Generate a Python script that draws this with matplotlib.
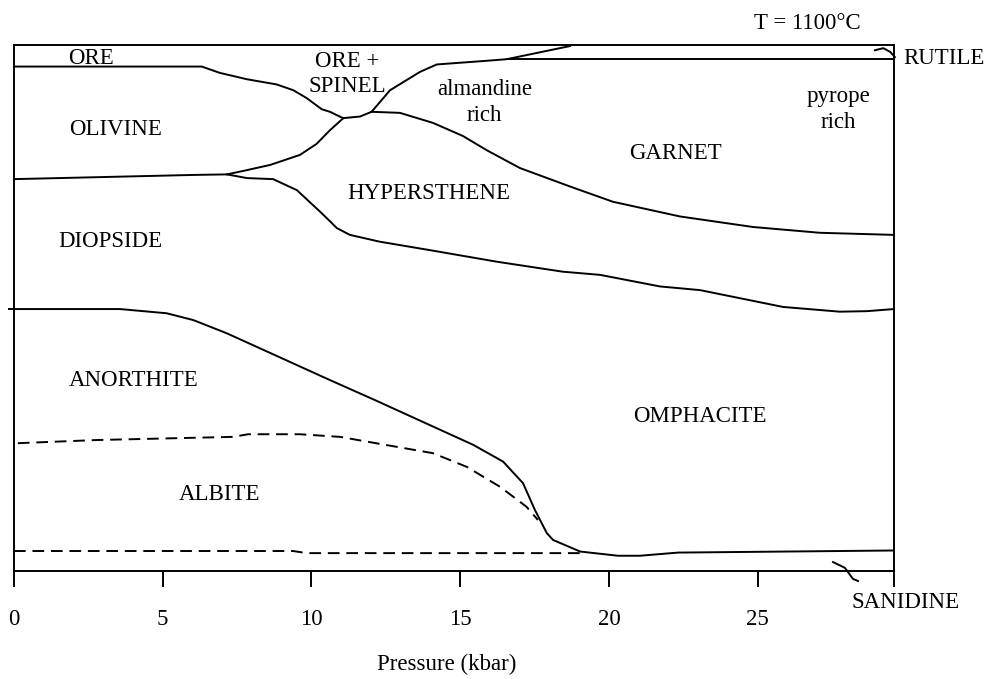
import matplotlib
matplotlib.use("Agg")
from matplotlib import pyplot as plt

plt.rcParams['font.family'] = ['Liberation Serif', 'DejaVu Serif']

# boundaries: x = pressure (kbar), y = relative height (0..100)
ore_x = [0, 6.31, 6.92, 7.82, 8.83, 9.39, 9.84, 10.34, 10.62, 11.06]
ore_y = [95.9, 95.9, 94.7, 93.5, 92.5, 91.4, 89.9, 87.8, 87.3, 86.1]

olivine_x = [0, 6.05, 7.16, 7.82, 8.61, 9.61, 10.17, 10.62, 11.07, 11.63, 12.02,
             12.64, 13.65, 14.21, 15.89, 16.56, 18.69]
olivine_y = [74.5, 75.3, 75.4, 76.2, 77.2, 79.1, 81.2, 83.8, 86.1, 86.4, 87.3,
             91.4, 94.9, 96.3, 97.0, 97.3, 99.8]

rutile_x = [16.56, 29.58]
rutile_y = [97.3, 97.3]

diopside_x = [7.16, 7.83, 8.71, 9.51, 10.29, 10.62, 10.85, 11.29, 12.30, 13.98,
              16.23, 18.45, 19.70, 21.71, 23.06, 25.85, 27.76, 28.67, 29.58]
diopside_y = [75.4, 74.7, 74.5, 72.4, 68.3, 66.5, 65.2, 63.9, 62.6, 61.0,
              58.8, 56.9, 56.3, 54.1, 53.4, 50.2, 49.3, 49.4, 49.8]

garnet_x = [12.02, 12.97, 14.08, 15.09, 15.89, 17.01, 18.69, 20.13, 22.39,
            24.84, 27.09, 29.58]
garnet_y = [87.3, 87.1, 85.2, 82.7, 80.0, 76.6, 73.1, 70.2, 67.4,
            65.4, 64.3, 63.9]

anorthite_x = [0, 3.56, 5.13, 6.03, 7.15, 10.62, 12.13, 15.43, 16.44, 17.11,
               17.51, 17.91, 18.12, 19.03, 20.30, 21.04, 22.32, 29.58]
anorthite_y = [49.8, 49.8, 49.0, 47.7, 45.2, 36.3, 32.5, 24.0, 20.8, 16.7,
               11.6, 7.2, 5.9, 3.7, 2.9, 2.9, 3.5, 3.9]

albite_top_x = [0.13, 2.79, 7.36, 7.87, 9.61, 10.96, 11.86, 14.08, 15.22,
                16.34, 17.23, 17.61]
albite_top_y = [24.3, 24.9, 25.5, 26.0, 26.0, 25.5, 24.6, 22.4, 19.8,
                16.0, 12.2, 9.7]

albite_bot_x = [0, 9.38, 9.84, 19.03]
albite_bot_y = [3.8, 3.8, 3.4, 3.4]

rutile_mark_x = [28.94, 29.22, 29.45, 29.61]
rutile_mark_y = [99.0, 99.4, 98.7, 97.7]
sanidine_mark_x = [27.53, 27.93, 28.20, 28.37]
sanidine_mark_y = [1.7, 0.6, -1.5, -1.9]

labels = ["ORE", "ORE +\nSPINEL", "almandine\nrich", "pyrope\nrich", "OLIVINE",
          "GARNET", "HYPERSTHENE", "DIOPSIDE", "ANORTHITE", "OMPHACITE", "ALBITE"]
label_x = [2.58, 11.19, 15.82, 27.70, 3.43, 22.23, 13.94, 3.23, 4.03, 23.06, 6.91]
label_y = [97.4, 94.5, 89.1, 87.8, 84.0, 79.4, 71.7, 62.7, 36.3, 29.3, 14.6]

xticks = [0, 5, 10, 15, 20, 25]
xmax = 29.58

W, H = 987, 679
fig = plt.figure(figsize=(W / 100, H / 100), dpi=100)
ax = fig.add_axes([14 / W, (H - 571) / H, (894 - 14) / W, (571 - 45) / H])
ax.set_xlim(0, xmax)
ax.set_ylim(0, 100)

lw = 1.4
for xs, ys in [(ore_x, ore_y), (olivine_x, olivine_y), (rutile_x, rutile_y),
               (diopside_x, diopside_y), (garnet_x, garnet_y),
               (anorthite_x, anorthite_y)]:
    ax.plot(xs, ys, color='black', lw=lw, solid_joinstyle='round')
for xs, ys in [(albite_top_x, albite_top_y), (albite_bot_x, albite_bot_y)]:
    ax.plot(xs, ys, color='black', lw=lw, dashes=(6, 3.5))
ax.plot(rutile_mark_x, rutile_mark_y, color='black', lw=lw, clip_on=False)
ax.plot(sanidine_mark_x, sanidine_mark_y, color='black', lw=lw, clip_on=False)

for t, x, y in zip(labels, label_x, label_y):
    ax.text(x, y, t, ha='center', va='center', fontsize=16.5, linespacing=1.3)

ax.text(26.66, 104.1, "T = 1100°C", ha='center', va='center', fontsize=16.5, clip_on=False)
ax.text(29.88, 97.5, "RUTILE", ha='left', va='center', fontsize=16.5, clip_on=False)
ax.text(29.98, -5.9, "SANIDINE", ha='center', va='center', fontsize=16.5, clip_on=False)

for s in ax.spines.values():
    s.set_linewidth(lw)

ax.set_xticks(xticks + [xmax])
ax.set_xticklabels([str(t) for t in xticks] + [''])
ax.tick_params(axis='x', direction='out', length=11.3, width=lw, pad=16,
               labelsize=16.5)
ax.set_yticks([49.8])
ax.set_yticklabels([''])
ax.tick_params(axis='y', direction='out', length=4.5, width=lw)

fig.text(447 / W, 1 - 664 / H, "Pressure (kbar)", ha='center', va='center', fontsize=16.5)

plt.savefig('out.png', dpi=100)
